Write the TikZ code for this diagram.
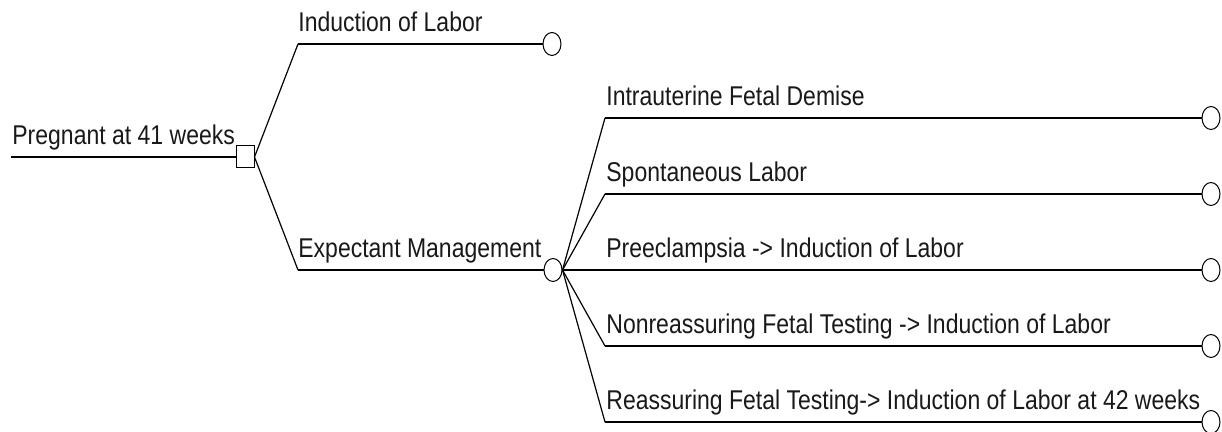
\documentclass[tikz,border=0pt]{standalone}
\usepackage{fontspec}
\setmainfont{Liberation Sans}
\usetikzlibrary{shapes.geometric}
\newcommand{\tall}[1]{\scalebox{1}[1.18]{#1}}
\begin{document}
\begin{tikzpicture}[x=0.5pt,y=-0.5pt,
        lbl/.style={anchor=base west,inner sep=0pt,text=black!90,font=\fontsize{11.5}{13}\selectfont},
        decision/.style={draw,rectangle,minimum width=9pt,minimum height=11pt,inner sep=0pt,line width=0.5pt},
        chance/.style={draw,ellipse,minimum width=9pt,minimum height=11.5pt,inner sep=0pt,line width=0.5pt},
        twig/.style={line width=0.6pt},
        stem/.style={line width=0.9pt}]
        \useasboundingbox (0,0) rectangle (1222,432);
        % root and decision
        \coordinate (start) at (11,157);
        \node[decision] (dec) at (245,157) {};
        \node[lbl] (root) at (12,145) {\tall{Pregnant at 41 weeks}};
        \draw[stem] (start) -- (dec.west);
        % first choice
        \coordinate (a1) at (298,44);
        \node[chance] (induce) at (552,44) {};
        \node[lbl] (induceText) at (298,32) {\tall{Induction of Labor}};
        \draw[twig] (dec.east) -- (a1);
        \draw[stem] (a1) -- (induce.west);
        % second choice
        \coordinate (a2) at (298,270);
        \node[chance] (wait) at (553,270) {};
        \node[lbl] (waitText) at (298,258) {\tall{Expectant Management}};
        \draw[twig] (dec.east) -- (a2);
        \draw[stem] (a2) -- (wait.west);
        % outcomes of waiting
        \coordinate (b1) at (605,118);
        \coordinate (b2) at (605,194);
        \coordinate (b3) at (605,270);
        \coordinate (b4) at (605,346);
        \coordinate (b5) at (605,422);
        \node[chance] (demise) at (1211,118) {};
        \node[chance] (spont) at (1211,194) {};
        \node[chance] (preec) at (1211,270) {};
        \node[chance] (nonreas) at (1211,346) {};
        \node[chance] (reas) at (1211,422) {};
        \node[lbl] (demiseText) at (606,106) {\tall{Intrauterine Fetal Demise}};
        \node[lbl] (spontText) at (606,182) {\tall{Spontaneous Labor}};
        \node[lbl] (preecText) at (606,258) {\tall{Preeclampsia -> Induction of Labor}};
        \node[lbl] (nonreasText) at (606,334) {\tall{Nonreassuring Fetal Testing -> Induction of Labor}};
        \node[lbl] (reasText) at (606,410) {\tall{Reassuring Fetal Testing-> Induction of Labor at 42 weeks}};
        \draw[twig] (wait.east) -- (b1);
        \draw[twig] (wait.east) -- (b2);
        \draw[twig] (wait.east) -- (b4);
        \draw[twig] (wait.east) -- (b5);
        \draw[stem] (wait.east) -- (b3);
        \draw[stem] (b1) -- (demise.west);
        \draw[stem] (b2) -- (spont.west);
        \draw[stem] (b3) -- (preec.west);
        \draw[stem] (b4) -- (nonreas.west);
        \draw[stem] (b5) -- (reas.west);
\end{tikzpicture}
\end{document}
